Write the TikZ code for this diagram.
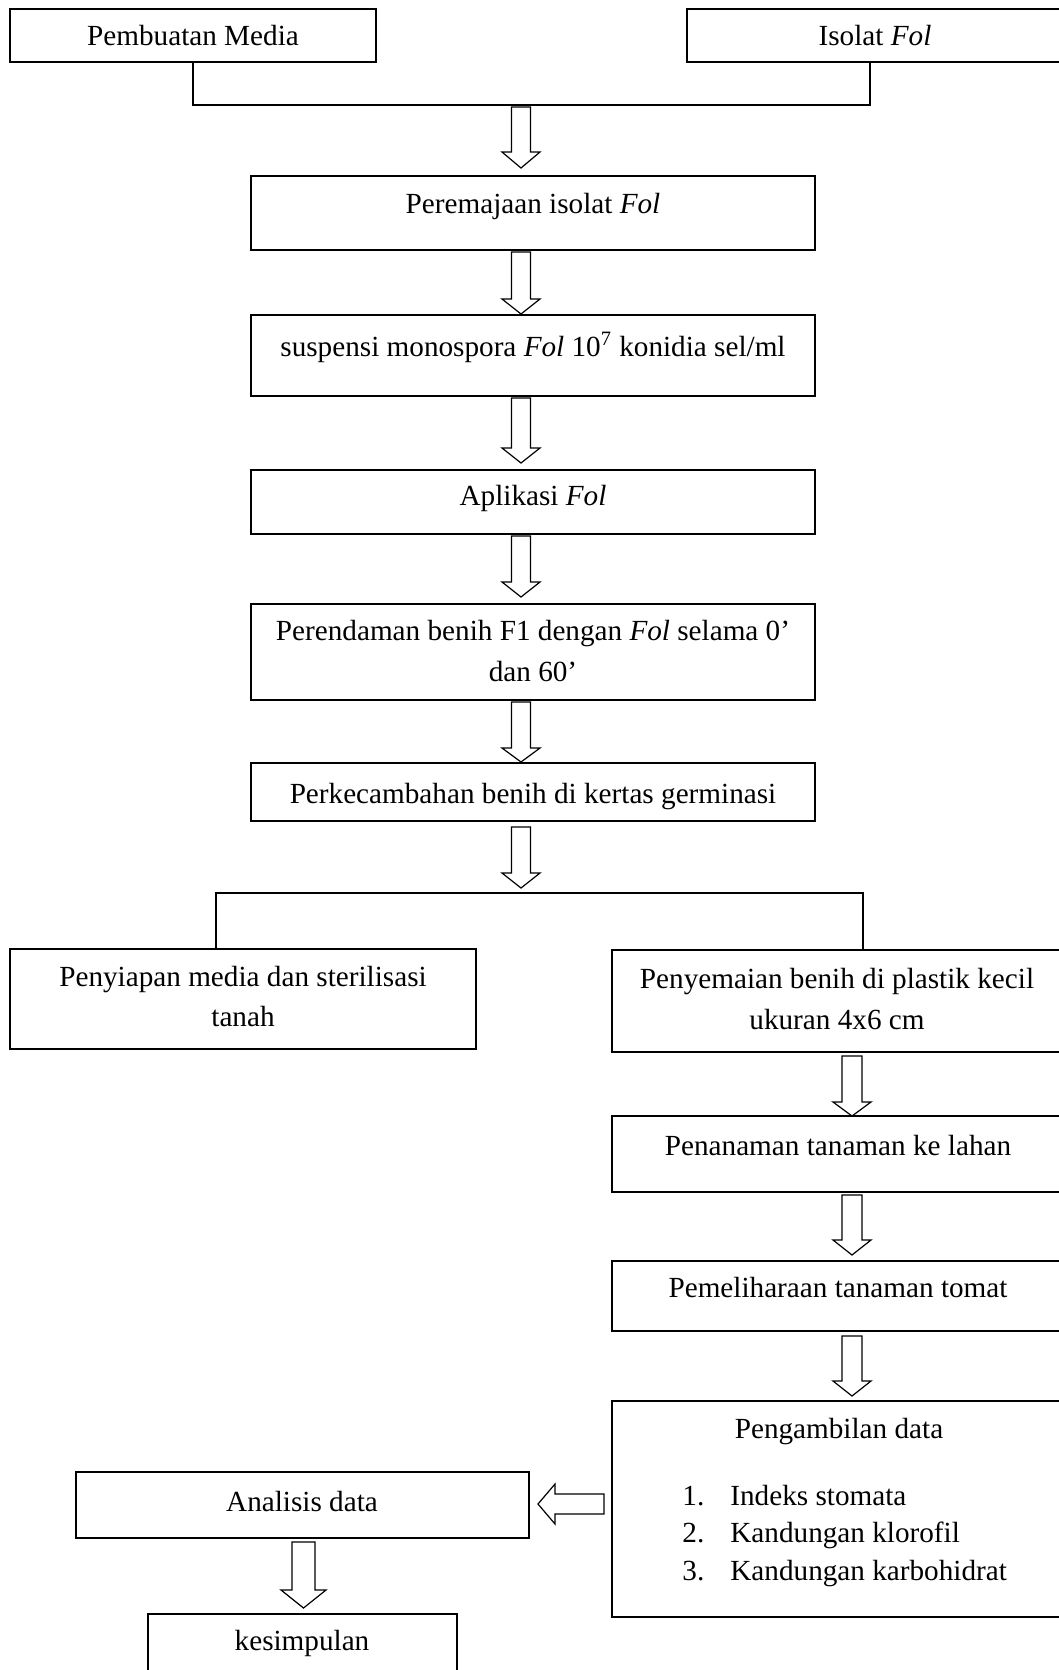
\documentclass[tikz,border=0pt]{standalone}
\usepackage{fontspec}
\setmainfont{Liberation Serif}
\usetikzlibrary{fit}
\tikzset{
  boxline/.style={draw=black, line width=1pt, inner sep=0pt},
  txt/.style={inner sep=0pt, anchor=base, font=\fontsize{14.6}{20.2}\selectfont},
  txtw/.style={inner sep=0pt, anchor=base west, font=\fontsize{14.6}{20.2}\selectfont},
  arr/.style={draw=black, line width=0.6pt, fill=white, line join=miter},
  elbow/.style={draw=black, line width=1pt}
}
\newcommand\MkBox[5]{%
  \path (#2,#3) coordinate (#1-a) (#4,#5) coordinate (#1-b);
  \node[boxline, fit=(#1-a)(#1-b)] (#1) {};}
\newcommand\DArr[6]{%
  \draw[arr] (#1-#5,#2) -- (#1+#5,#2) -- (#1+#5,#3) -- (#1+#6,#3) -- (#1,#4) -- (#1-#6,#3) -- (#1-#5,#3) -- cycle;}
\begin{document}
\begin{tikzpicture}[x=0.5pt,y=-0.5pt]
\clip (0,0) rectangle (1059,1670);
\fill[white] (0,0) rectangle (1059,1670);
% boxes
\MkBox{pm}{10}{9}{376}{62}
\MkBox{is}{687}{9}{1068}{62}
\MkBox{pr}{251}{176}{815}{250}
\MkBox{su}{251}{315}{815}{396}
\MkBox{ap}{251}{470}{815}{534}
\MkBox{pe}{251}{604}{815}{700}
\MkBox{pk}{251}{763}{815}{821}
\MkBox{ps}{10}{949}{476}{1049}
\MkBox{sm}{612}{950}{1068}{1052}
\MkBox{pn}{612}{1116}{1068}{1192}
\MkBox{pl}{612}{1261}{1068}{1331}
\MkBox{pd}{612}{1401}{1068}{1617}
\MkBox{an}{76}{1472}{529}{1538}
\MkBox{ks}{148}{1614}{457}{1700}
% texts
\node[txt] (pm-t) at (193,45) {Pembuatan Media};
\node[txt] (is-t) at (875,45) {Isolat \textit{Fol}};
\node[txt] (pr-t) at (533,213) {Peremajaan isolat \textit{Fol}};
\node[txt] (su-t) at (533,356) {suspensi monospora \textit{Fol} 10\textsuperscript{7} konidia sel/ml};
\node[txt] (ap-t) at (533,505) {Aplikasi \textit{Fol}};
\node[txt] (pe-t1) at (533,640) {Perendaman benih F1 dengan \textit{Fol} selama 0’};
\node[txt] (pe-t2) at (533,681) {dan 60’};
\node[txt] (pk-t) at (533,803) {Perkecambahan benih di kertas germinasi};
\node[txt] (ps-t1) at (243,986) {Penyiapan media dan sterilisasi};
\node[txt] (ps-t2) at (243,1026) {tanah};
\node[txt] (sm-t1) at (837,988) {Penyemaian benih di plastik kecil};
\node[txt] (sm-t2) at (837,1029) {ukuran 4x6 cm};
\node[txt] (pn-t) at (838,1155) {Penanaman tanaman ke lahan};
\node[txt] (pl-t) at (838,1297) {Pemeliharaan tanaman tomat};
\node[txt] (pd-t) at (839,1438) {Pengambilan data};
\node[txtw] (pd-n1) at (682,1505) {1.};
\node[txtw] (pd-i1) at (730,1505) {Indeks stomata};
\node[txtw] (pd-n2) at (682,1542) {2.};
\node[txtw] (pd-i2) at (730,1542) {Kandungan klorofil};
\node[txtw] (pd-n3) at (682,1580) {3.};
\node[txtw] (pd-i3) at (730,1580) {Kandungan karbohidrat};
\node[txt] (an-t) at (302,1511) {Analisis data};
\node[txt] (ks-t) at (302,1650) {kesimpulan};
% elbow connectors
\coordinate (j1) at (193,105);
\coordinate (j2) at (870,105);
\draw[elbow] (pm.south -| j1) -- (j1) -- (j2) -- (is.south -| j2);
\coordinate (j3) at (216,893);
\coordinate (j4) at (863,893);
\draw[elbow] (ps.north -| j3) -- (j3) -- (j4) -- (sm.north -| j4);
% block arrows
\DArr{521}{107}{152}{168}{9.5}{19}
\DArr{521}{252}{299}{314}{9.5}{19}
\DArr{521}{398}{448}{463}{9.5}{19}
\DArr{521}{536}{582}{597}{9.5}{19}
\DArr{521}{702}{748}{762}{9.5}{19}
\DArr{521}{827}{873}{888}{9.5}{19}
\DArr{852}{1056}{1102}{1116}{10}{19}
\DArr{852}{1195}{1240}{1255}{10}{19}
\DArr{852}{1336}{1381}{1396}{10}{19}
\DArr{303.5}{1542}{1590}{1608}{11.5}{22.5}
\draw[arr] (604,1494) -- (604,1514) -- (555,1514) -- (555,1524) -- (538,1504) -- (555,1484) -- (555,1494) -- cycle;
\end{tikzpicture}
\end{document}
